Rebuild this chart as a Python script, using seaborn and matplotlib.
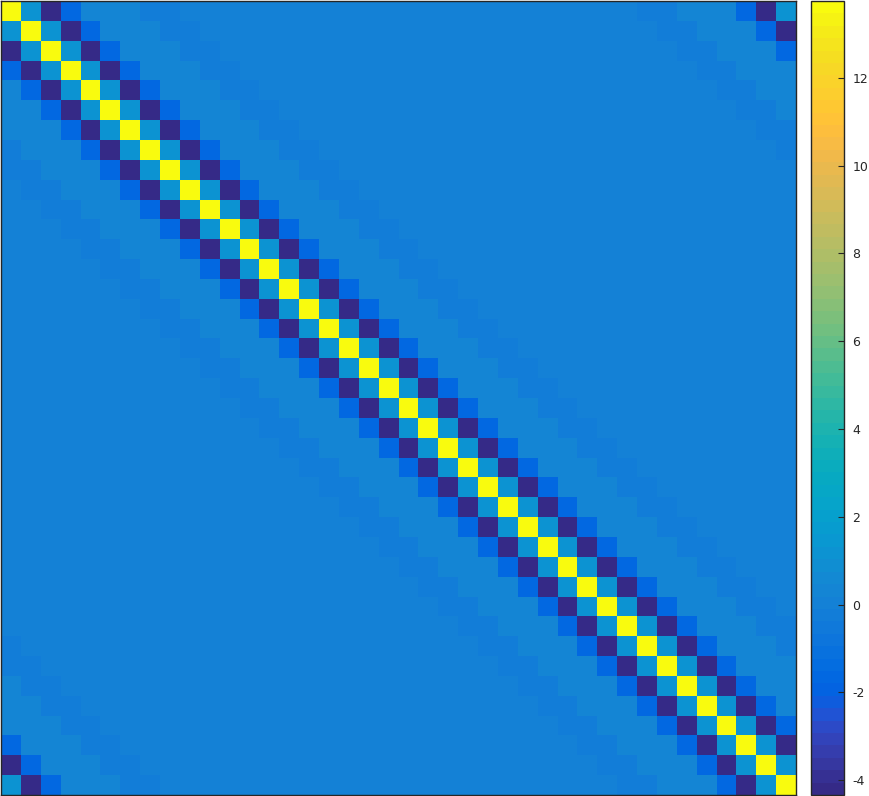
import numpy as np
import seaborn as sbn
import matplotlib
matplotlib.use('Agg')
import matplotlib.pyplot as plt
from matplotlib.colors import ListedColormap

# parula (64 levels)
parula_rgb = [
    [0.2081, 0.1663, 0.5292], [0.2116, 0.1898, 0.5777], [0.2123, 0.2138, 0.6270], [0.2081, 0.2386, 0.6771],
    [0.1959, 0.2645, 0.7279], [0.1707, 0.2919, 0.7792], [0.1253, 0.3242, 0.8303], [0.0591, 0.3598, 0.8683],
    [0.0117, 0.3875, 0.8820], [0.0060, 0.4086, 0.8828], [0.0165, 0.4266, 0.8786], [0.0329, 0.4430, 0.8720],
    [0.0498, 0.4586, 0.8641], [0.0629, 0.4737, 0.8554], [0.0723, 0.4887, 0.8467], [0.0779, 0.5040, 0.8384],
    [0.0793, 0.5200, 0.8312], [0.0749, 0.5375, 0.8263], [0.0641, 0.5570, 0.8240], [0.0488, 0.5772, 0.8228],
    [0.0343, 0.5966, 0.8199], [0.0265, 0.6137, 0.8135], [0.0239, 0.6287, 0.8038], [0.0231, 0.6418, 0.7913],
    [0.0228, 0.6535, 0.7768], [0.0267, 0.6642, 0.7607], [0.0384, 0.6743, 0.7436], [0.0590, 0.6838, 0.7254],
    [0.0843, 0.6928, 0.7062], [0.1133, 0.7015, 0.6859], [0.1453, 0.7098, 0.6646], [0.1801, 0.7177, 0.6424],
    [0.2178, 0.7250, 0.6193], [0.2586, 0.7317, 0.5954], [0.3022, 0.7376, 0.5712], [0.3482, 0.7424, 0.5473],
    [0.3953, 0.7459, 0.5244], [0.4420, 0.7481, 0.5033], [0.4871, 0.7491, 0.4840], [0.5300, 0.7491, 0.4661],
    [0.5709, 0.7485, 0.4494], [0.6099, 0.7473, 0.4337], [0.6473, 0.7456, 0.4188], [0.6834, 0.7435, 0.4044],
    [0.7184, 0.7411, 0.3905], [0.7525, 0.7384, 0.3768], [0.7858, 0.7356, 0.3633], [0.8185, 0.7327, 0.3498],
    [0.8507, 0.7299, 0.3360], [0.8824, 0.7274, 0.3217], [0.9139, 0.7258, 0.3063], [0.9450, 0.7261, 0.2886],
    [0.9739, 0.7314, 0.2666], [0.9938, 0.7455, 0.2403], [0.9990, 0.7653, 0.2164], [0.9955, 0.7861, 0.1967],
    [0.9880, 0.8066, 0.1794], [0.9789, 0.8271, 0.1633], [0.9697, 0.8481, 0.1475], [0.9626, 0.8705, 0.1309],
    [0.9589, 0.8949, 0.1132], [0.9598, 0.9218, 0.0948], [0.9661, 0.9514, 0.0755], [0.9763, 0.9831, 0.0538],
]
parula = ListedColormap(parula_rgb, name='parula')

# matrix data: 40x40 circulant, values per diagonal offset
n_size = 40
band_offsets = [0, 1, 2, 3, 4, 5, 6, 7, 8]
band_values = [13.75, 1.18, -4.34, -1.66, 0.30, 0.30, 0.30, -0.23, -0.23]
background_value = 0.0
cbar_ticks = [-4, -2, 0, 2, 4, 6, 8, 10, 12]

lookup = np.full(n_size, background_value)
for k, v in zip(band_offsets, band_values):
    lookup[k] = v
    lookup[-k % n_size] = v
rows, cols = np.indices((n_size, n_size))
datamat = lookup[(cols - rows) % n_size]

W, H = 870, 796
fig = plt.figure(figsize=(W / 100, H / 100), dpi=100)
ax = fig.add_axes([1 / W, 1 / H, 795 / W, 794 / H])
cax = fig.add_axes([811 / W, 1 / H, 33 / W, 794 / H])

sbn.heatmap(datamat, cmap=parula, vmin=-4.34, vmax=13.75, ax=ax, cbar_ax=cax,
            xticklabels=False, yticklabels=False)

edge = '#262626'
for sp in ax.spines.values():
    sp.set_visible(True)
    sp.set_color(edge)
    sp.set_linewidth(1.0)
ax.tick_params(length=0)

cbar = ax.collections[0].colorbar
cbar.set_ticks(cbar_ticks)
cbar.set_ticklabels([str(t) for t in cbar_ticks])
cbar.outline.set_visible(True)
cbar.outline.set_edgecolor(edge)
cbar.outline.set_linewidth(1.0)
cax.tick_params(direction='in', length=4, width=0.8, color=edge,
                labelsize=9, labelcolor=edge, pad=6)

fig.savefig('out.png', dpi=100)
